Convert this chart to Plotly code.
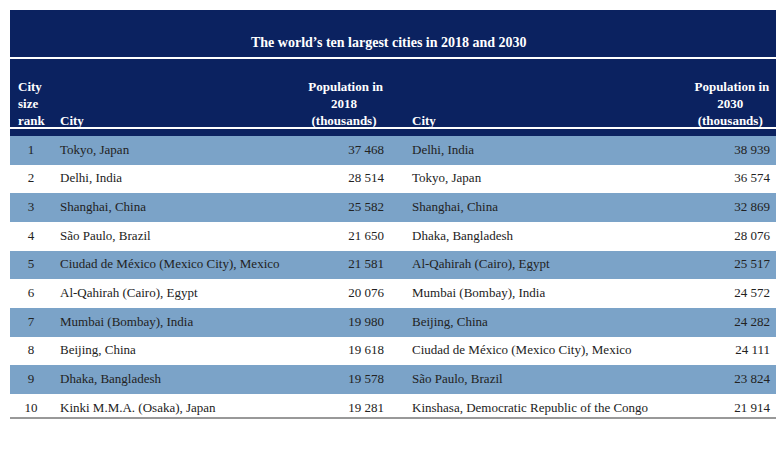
import plotly.graph_objects as go

ranks = [str(i) for i in range(1, 11)]
cities_2018 = ["Tokyo, Japan", "Delhi, India", "Shanghai, China", "São Paulo, Brazil",
               "Ciudad de México (Mexico City), Mexico", "Al-Qahirah (Cairo), Egypt",
               "Mumbai (Bombay), India", "Beijing, China", "Dhaka, Bangladesh",
               "Kinki M.M.A. (Osaka), Japan"]
pop_2018 = ["37 468", "28 514", "25 582", "21 650", "21 581", "20 076", "19 980", "19 618", "19 578", "19 281"]
cities_2030 = ["Delhi, India", "Tokyo, Japan", "Shanghai, China", "Dhaka, Bangladesh",
               "Al-Qahirah (Cairo), Egypt", "Mumbai (Bombay), India", "Beijing, China",
               "Ciudad de México (Mexico City), Mexico", "São Paulo, Brazil",
               "Kinshasa, Democratic Republic of the Congo"]
pop_2030 = ["38 939", "36 574", "32 869", "28 076", "25 517", "24 572", "24 282", "24 111", "23 824", "21 914"]
NB = "&nbsp;"
headers = ["<b>City<br>size<br>rank</b>", f"<b>{NB}<br>{NB}<br>City</b>",
           f"<b>Population in<br>{NB*7}2018{NB*7}<br>{NB}(thousands){NB}</b>",
           "", f"<b>{NB}<br>{NB}<br>City</b>",
           f"<b>Population in<br>{NB*7}2030{NB*7}<br>{NB}(thousands){NB}</b>"]

W, H = 784, 453
OFF = 8  # page body margin
def px(x): return (x - OFF) / W
def py(y): return 1 - (y - OFF) / H

navy = "#0b2260"
blue = "#7ba3c8"
fills = [blue if i % 2 == 0 else "white" for i in range(10)]
spacer = [""] * 10

fig = go.Figure(go.Table(
    domain=dict(x=[px(10), px(778)], y=[py(416), py(71)]),
    columnwidth=[42, 248, 92, 12, 256, 118],
    header=dict(values=headers, fill_color=navy, height=58,
                align=["left", "left", "center", "left", "left", "right"],
                font=dict(family="Liberation Serif", size=13, color="white"),
                line=dict(width=0, color=navy)),
    cells=dict(values=[ranks, cities_2018, pop_2018, spacer, cities_2030, pop_2030],
               fill_color=[fills] * 6, height=28.7,
               align=["center", "left", "right", "left", "left", "right"],
               font=dict(family="Liberation Serif", size=13, color="#222222"),
               line=dict(width=0, color="white")),
))
fig.update_layout(
    width=W, height=H, margin=dict(l=0, r=0, t=0, b=0),
    paper_bgcolor="white", plot_bgcolor="white",
    shapes=[
        dict(type="rect", xref="paper", yref="paper", x0=px(10), x1=px(778),
             y0=py(57), y1=py(10), fillcolor=navy, line=dict(width=0), layer="below"),
        dict(type="rect", xref="paper", yref="paper", x0=px(10), x1=px(778),
             y0=py(128), y1=py(59), fillcolor=navy, line=dict(width=0), layer="below"),
        dict(type="line", xref="paper", yref="paper", x0=px(10), x1=px(778),
             y0=py(128), y1=py(128), line=dict(color="white", width=2)),
        dict(type="line", xref="paper", yref="paper", x0=px(10), x1=px(778),
             y0=py(418), y1=py(418), line=dict(color="#333333", width=1)),
    ],
    annotations=[dict(text="<b>The world’s ten largest cities in 2018 and 2030</b>",
                      xref="paper", yref="paper", x=px(389), y=py(33),
                      showarrow=False, font=dict(family="Liberation Serif", size=14, color="white"))],
)
fig.write_html("out.html")
